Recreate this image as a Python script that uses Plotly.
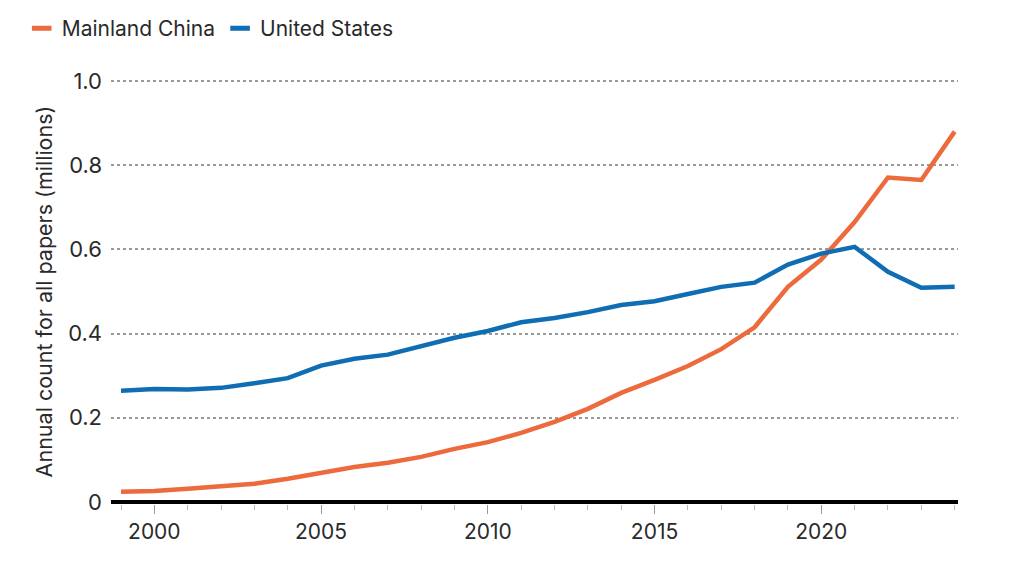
import plotly.graph_objects as go

years = list(range(1999, 2025))
china = [0.024, 0.026, 0.031, 0.036, 0.043, 0.055, 0.070, 0.083, 0.093, 0.107,
         0.126, 0.142, 0.164, 0.190, 0.221, 0.259, 0.290, 0.323, 0.363, 0.415,
         0.511, 0.576, 0.665, 0.771, 0.765, 0.880]
usa = [0.264, 0.268, 0.267, 0.271, 0.282, 0.294, 0.324, 0.340, 0.350, 0.371,
       0.390, 0.406, 0.427, 0.437, 0.451, 0.468, 0.477, 0.494, 0.511, 0.521,
       0.564, 0.590, 0.606, 0.547, 0.509, 0.511]
ytick_vals = [0, 0.2, 0.4, 0.6, 0.8, 1.0]
ytick_text = ["0", "0.2", "0.4", "0.6", "0.8", "1.0"]
xtick_vals = [2000, 2005, 2010, 2015, 2020]

ORANGE = "#EC6A3B"
BLUE = "#0F6DB3"
FONT = "Inter"
TXT = "#2a2a2a"

fig = go.Figure()
fig.add_trace(go.Scatter(x=years, y=china, mode="lines", name="Mainland China",
                         line=dict(color=ORANGE, width=4.5), showlegend=False))
fig.add_trace(go.Scatter(x=years, y=usa, mode="lines", name="United States",
                         line=dict(color=BLUE, width=4.5), showlegend=False))
# legend entries
for name, col in [("Mainland China", ORANGE), ("United States", BLUE)]:
    fig.add_trace(go.Scatter(x=[None], y=[None], mode="markers", name=name,
                             marker=dict(symbol="line-ew", size=14,
                                         line=dict(color=col, width=5))))

fig.update_layout(
    width=1016, height=559,
    margin=dict(l=103, r=66, t=71, b=63),
    paper_bgcolor="white", plot_bgcolor="white",
    font=dict(family=FONT, size=21, color=TXT),
    legend=dict(orientation="h", xref="container", yref="container",
                x=0.0135, y=1.0, xanchor="left", yanchor="top",
                font=dict(size=21, color=TXT), itemwidth=30,
                traceorder="normal"),
    xaxis=dict(range=[1998.7, 2024.1], tickvals=xtick_vals,
               ticks="outside", ticklen=9, tickcolor="#999999", tickwidth=1,
               showgrid=False, zeroline=False, showline=False,
               minor=dict(dtick=1, tick0=1999, ticks="outside", ticklen=5,
                          tickcolor="#bbbbbb", showgrid=False),
               tickfont=dict(size=21, color=TXT)),
    yaxis=dict(range=[-0.005, 1.005], tickvals=ytick_vals, ticktext=ytick_text,
               showgrid=True, gridcolor="#999999", griddash="dot", gridwidth=1.5,
               zeroline=True, zerolinecolor="black", zerolinewidth=3.5,
               showline=False, ticks="", ticklabelstandoff=8,
               title=dict(text="Annual count for all papers (millions)",
                          font=dict(size=21.5, color=TXT), standoff=9),
               tickfont=dict(size=22, color=TXT)),
)

fig.write_html("out.html")
